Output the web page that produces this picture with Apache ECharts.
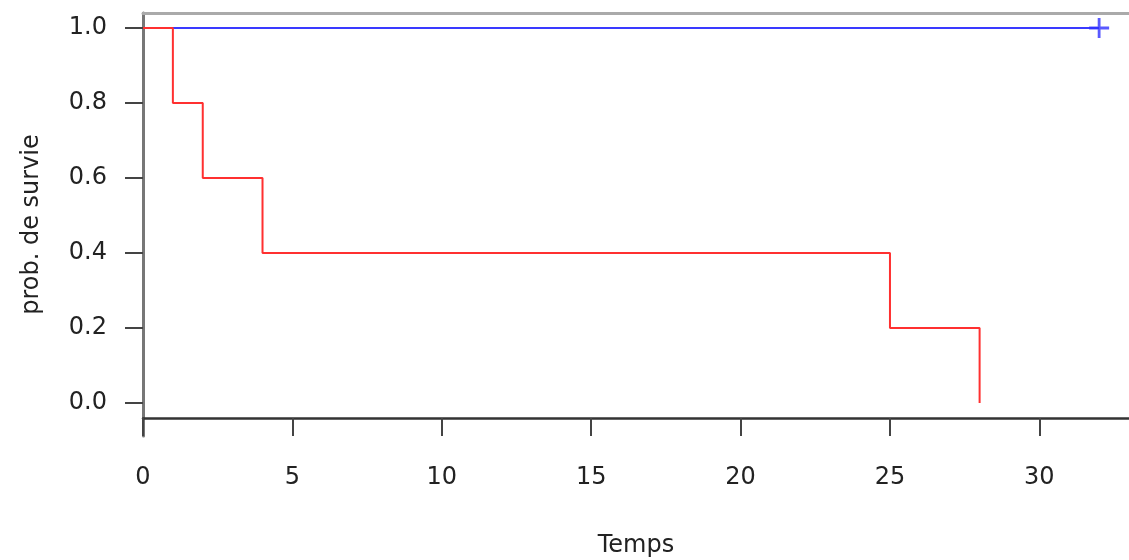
<!DOCTYPE html>
<html><head><meta charset="utf-8">
<script src="https://cdn.jsdelivr.net/npm/echarts@6/dist/echarts.min.js"></script>
<style>html,body{margin:0;padding:0;background:#fff}#c{width:1129px;height:560px}</style>
</head><body><div id="c"></div>
<script>
// Kaplan-Meier survival curves
const redTimes = [0, 1, 2, 4, 25, 28];
const redSurv = [1.0, 0.8, 0.6, 0.4, 0.2, 0.0];
const blueTimes = [0, 32];
const blueSurv = [1.0, 1.0];
const blueCensorTimes = [32];
const blueCensorSurv = [1.0];
const xTicks = [0, 5, 10, 15, 20, 25, 30];
const yTicks = [0, 0.2, 0.4, 0.6, 0.8, 1.0];

const font = 'DejaVu Sans';
const chart = echarts.init(document.getElementById('c'), null, {renderer: 'canvas'});
const plus = 'path://M-1.4,-10h2.8v8.6h8.6v2.8h-8.6v8.6h-2.8v-8.6h-8.6v-2.8h8.6z';
chart.setOption({
  animation: false,
  backgroundColor: '#fff',
  grid: {left: 143, right: 0, top: 13, bottom: 124, containLabel: false, outerBoundsMode: 'none'},
  xAxis: [{
    type: 'value', min: 0, max: 33, position: 'bottom',
    axisLine: {show: true, onZero: true, onZeroAxisIndex: 1, lineStyle: {color: '#333', width: 2.5}},
    axisTick: {show: true, length: 18, customValues: xTicks, lineStyle: {color: '#444', width: 2}},
    axisLabel: {customValues: xTicks, margin: 30, fontFamily: font, fontSize: 24, color: '#222'},
    splitLine: {show: false},
    name: 'Temps', nameLocation: 'middle', nameGap: 98,
    nameTextStyle: {fontFamily: font, fontSize: 24, color: '#222'}
  }, {
    type: 'value', min: 0, max: 33, position: 'top',
    axisLine: {show: true, onZero: false, lineStyle: {color: '#aaa', width: 3}},
    axisTick: {show: false}, axisLabel: {show: false}, splitLine: {show: false}
  }],
  yAxis: [{
    type: 'value', min: -0.088, max: 1.04,
    axisLine: {show: true, onZero: false, lineStyle: {color: '#777', width: 3}},
    axisTick: {show: true, length: 18, customValues: yTicks, lineStyle: {color: '#444', width: 2}},
    axisLabel: {customValues: yTicks, margin: 36, fontFamily: font, fontSize: 24, color: '#222',
      formatter: v => v.toFixed(1)},
    splitLine: {show: false},
    name: 'prob. de survie', nameLocation: 'middle', nameGap: 99, nameRotate: 90,
    nameTextStyle: {fontFamily: font, fontSize: 24, color: '#222'}
  }, {
    type: 'value', min: -0.048, max: 1.08, show: false
  }],
  series: [{
    type: 'line', step: 'end', yAxisIndex: 0, xAxisIndex: 0,
    data: blueTimes.map((t, i) => [t, blueSurv[i]]),
    showSymbol: false, lineStyle: {color: '#3a3aff', width: 2}, z: 2
  }, {
    type: 'line', step: 'end', yAxisIndex: 0, xAxisIndex: 0,
    data: redTimes.map((t, i) => [t, redSurv[i]]),
    showSymbol: false, lineStyle: {color: '#ff3030', width: 2}, z: 3
  }, {
    type: 'scatter', yAxisIndex: 0, xAxisIndex: 0,
    data: blueCensorTimes.map((t, i) => [t, blueCensorSurv[i]]),
    symbol: plus, symbolSize: 20, itemStyle: {color: '#3030ff'}, z: 4
  }]
});
</script></body></html>
